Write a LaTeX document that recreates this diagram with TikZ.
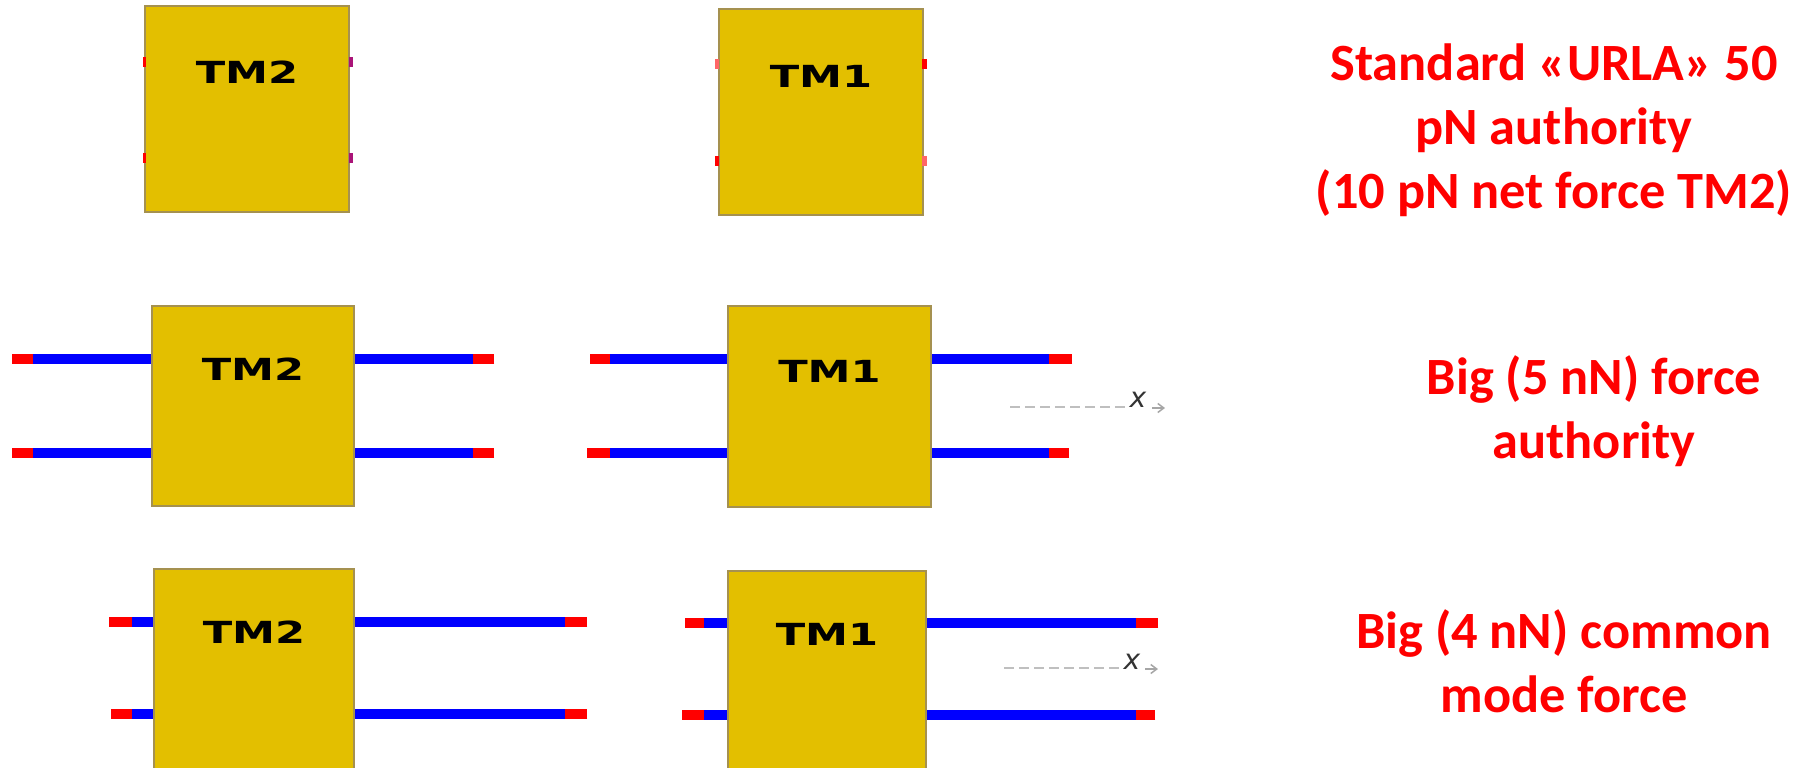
\documentclass[tikz,border=0pt]{standalone}
\usepackage{fontspec}
\usepackage{xcolor}
\usetikzlibrary{arrows.meta}
\setmainfont{Carlito}
\newfontfamily\tmfont[FakeStretch=1.42]{DejaVu Sans Bold}
\newfontfamily\axfont{DejaVu Sans}
\definecolor{tmgold}{RGB}{227,191,0}
\definecolor{tmedge}{RGB}{165,145,80}
\definecolor{tmviolet}{RGB}{170,20,120}

\begin{document}
\begin{tikzpicture}[
  x=0.2mm, y=-0.2mm,
  tmbox/.style={draw=tmedge,fill=tmgold,line width=0.25mm,inner sep=0pt},
  tmtext/.style={inner sep=0pt,font=\tmfont\fontsize{17.3}{17.3}\selectfont},
  rod/.style={blue,line width=2mm},
  rodend/.style={red,line width=2mm},
  axis/.style={gray!50,line width=0.35mm,dash pattern=on 2mm off 1mm},
  axtip/.style={gray!70,line width=0.3mm,-{Straight Barb[length=1.2mm,width=1.8mm]}},
  axlabel/.style={inner sep=0pt,text=black!80,font=\axfont\itshape\fontsize{16}{16}\selectfont},
  note/.style={text=red,align=center,anchor=base,font=\bfseries\fontsize{29.8}{36.4}\selectfont}
]
  \useasboundingbox (0,0) rectangle (1808,767);
  \clip (0,0) rectangle (1808,767);

  % standard authority
  \node[tmbox,minimum width=40.8mm,minimum height=41.2mm] (b1a) at (247,109) {};
  \node[tmbox,minimum width=40.8mm,minimum height=41.2mm] (b1b) at (821,112) {};
  \node[tmtext] (t1a) at ([yshift=-13.4mm]b1a.north) {TM2};
  \node[tmtext] (t1b) at ([yshift=-13.6mm]b1b.north) {TM1};
  \coordinate (s1a) at (143,62);
  \coordinate (s1b) at (143,158);
  \coordinate (s1c) at (349,62);
  \coordinate (s1d) at (349,158);
  \coordinate (s1e) at (715,64);
  \coordinate (s1f) at (715,161);
  \coordinate (s1g) at (922,64);
  \coordinate (s1h) at (922,161);
  \draw[rodend] (s1a) -- ++(3,0);
  \draw[rodend] (s1b) -- ++(3,0);
  \draw[rodend,tmviolet] (s1c) -- ++(4,0);
  \draw[rodend,tmviolet] (s1d) -- ++(4,0);
  \draw[rodend,red!60] (s1e) -- ++(4,0);
  \draw[rodend] (s1f) -- ++(4,0);
  \draw[rodend] (s1g) -- ++(5,0);
  \draw[rodend,red!60] (s1h) -- ++(5,0);

  % big force authority
  \node[tmbox,minimum width=40.4mm,minimum height=40mm] (b2a) at (253,406) {};
  \node[tmbox,minimum width=40.6mm,minimum height=40.2mm] (b2b) at (829.5,406.5) {};
  \node[tmtext] (t2a) at ([yshift=-12.8mm]b2a.north) {TM2};
  \node[tmtext] (t2b) at ([yshift=-13.2mm]b2b.north) {TM1};
  \coordinate (l2a) at (12,359);
  \coordinate (l2b) at (12,453);
  \coordinate (r2a) at (494,359);
  \coordinate (r2b) at (494,453);
  \coordinate (l2c) at (590,359);
  \coordinate (l2d) at (587,453);
  \coordinate (r2c) at (1072,359);
  \coordinate (r2d) at (1069,453);
  \draw[rod] (l2a) -- (l2a -| b2a.west);
  \draw[rod] (l2b) -- (l2b -| b2a.west);
  \draw[rod] (r2a) -- (r2a -| b2a.east);
  \draw[rod] (r2b) -- (r2b -| b2a.east);
  \draw[rod] (l2c) -- (l2c -| b2b.west);
  \draw[rod] (l2d) -- (l2d -| b2b.west);
  \draw[rod] (r2c) -- (r2c -| b2b.east);
  \draw[rod] (r2d) -- (r2d -| b2b.east);
  \draw[rodend] (l2a) -- ++(21,0);
  \draw[rodend] (l2b) -- ++(21,0);
  \draw[rodend] (r2a) -- ++(-21,0);
  \draw[rodend] (r2b) -- ++(-21,0);
  \draw[rodend] (l2c) -- ++(20,0);
  \draw[rodend] (l2d) -- ++(23,0);
  \draw[rodend] (r2c) -- ++(-23,0);
  \draw[rodend] (r2d) -- ++(-20,0);
  \coordinate (d2) at (1010,407);
  \node[axlabel] (x2) at (1138,400) {x};
  \coordinate (p2) at (1152,408);
  \draw[axis] (d2) -- (d2 -| x2.west);
  \draw[axtip] (p2) -- ++(13,0);

  % big common mode force
  \node[tmbox,minimum width=40mm,minimum height=40mm] (b3a) at (254,669) {};
  \node[tmbox,minimum width=39.6mm,minimum height=40mm] (b3b) at (827,671) {};
  \node[tmtext] (t3a) at ([yshift=-12.8mm]b3a.north) {TM2};
  \node[tmtext] (t3b) at ([yshift=-12.8mm]b3b.north) {TM1};
  \coordinate (l3a) at (109,622);
  \coordinate (l3b) at (111,714);
  \coordinate (r3a) at (587,622);
  \coordinate (r3b) at (587,714);
  \coordinate (l3c) at (685,623);
  \coordinate (l3d) at (682,715);
  \coordinate (r3c) at (1158,623);
  \coordinate (r3d) at (1155,715);
  \draw[rod] (l3a) -- (l3a -| b3a.west);
  \draw[rod] (l3b) -- (l3b -| b3a.west);
  \draw[rod] (r3a) -- (r3a -| b3a.east);
  \draw[rod] (r3b) -- (r3b -| b3a.east);
  \draw[rod] (l3c) -- (l3c -| b3b.west);
  \draw[rod] (l3d) -- (l3d -| b3b.west);
  \draw[rod] (r3c) -- (r3c -| b3b.east);
  \draw[rod] (r3d) -- (r3d -| b3b.east);
  \draw[rodend] (l3a) -- ++(23,0);
  \draw[rodend] (l3b) -- ++(21,0);
  \draw[rodend] (r3a) -- ++(-22,0);
  \draw[rodend] (r3b) -- ++(-22,0);
  \draw[rodend] (l3c) -- ++(19,0);
  \draw[rodend] (l3d) -- ++(22,0);
  \draw[rodend] (r3c) -- ++(-22,0);
  \draw[rodend] (r3d) -- ++(-19,0);
  \coordinate (d3) at (1004,668);
  \node[axlabel] (x3) at (1132,662) {x};
  \coordinate (p3) at (1145,669);
  \draw[axis] (d3) -- (d3 -| x3.west);
  \draw[axtip] (p3) -- ++(13,0);

  \node[note] (n1) at (1554,208) {Standard «URLA» 50\\pN authority\\(10 pN net force TM2)};
  \node[note] (n2) at (1594,458) {Big (5 nN) force\\authority};
  \node[note] (n3) at (1564,712) {Big (4 nN) common\\mode force};
\end{tikzpicture}
\end{document}
